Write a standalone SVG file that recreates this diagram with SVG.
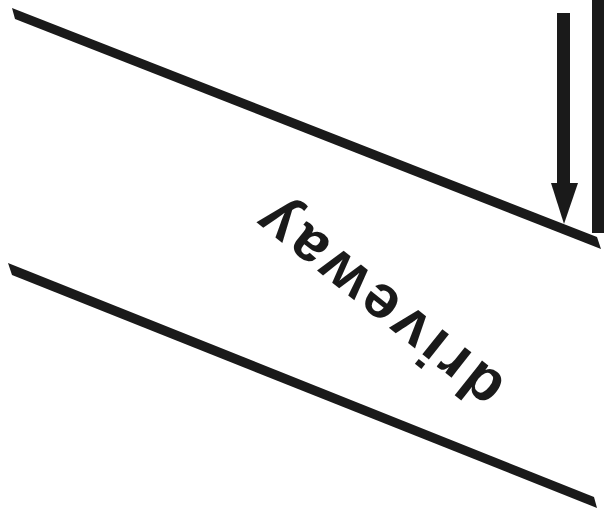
<svg xmlns="http://www.w3.org/2000/svg" width="605" height="519" viewBox="0 0 605 519">
<style>
.ink{fill:#1a1a1a;stroke:none}
.label{font-family:"Liberation Sans",Arial,sans-serif;font-weight:bold;font-size:61px;fill:#1a1a1a;letter-spacing:5px}
</style>
<rect width="605" height="519" fill="#ffffff"/>
<g id="edges">
<polygon id="edge-top" class="ink" points="12,8 597,237 601,249 15,19"/>
<polygon id="edge-bottom" class="ink" points="8,263 594,497 597,508 12,275"/>
</g>
<g id="wall">
<rect class="ink" x="592" y="0" width="12" height="233"/>
</g>
<g id="arrow">
<rect class="ink" x="557" y="13" width="13" height="172"/>
<polygon class="ink" points="551,183 578,183 564,224"/>
</g>
<g id="text">
<text class="label" text-anchor="middle" dominant-baseline="central" transform="translate(377,304) rotate(218.5)">driveway</text>
</g>
</svg>
